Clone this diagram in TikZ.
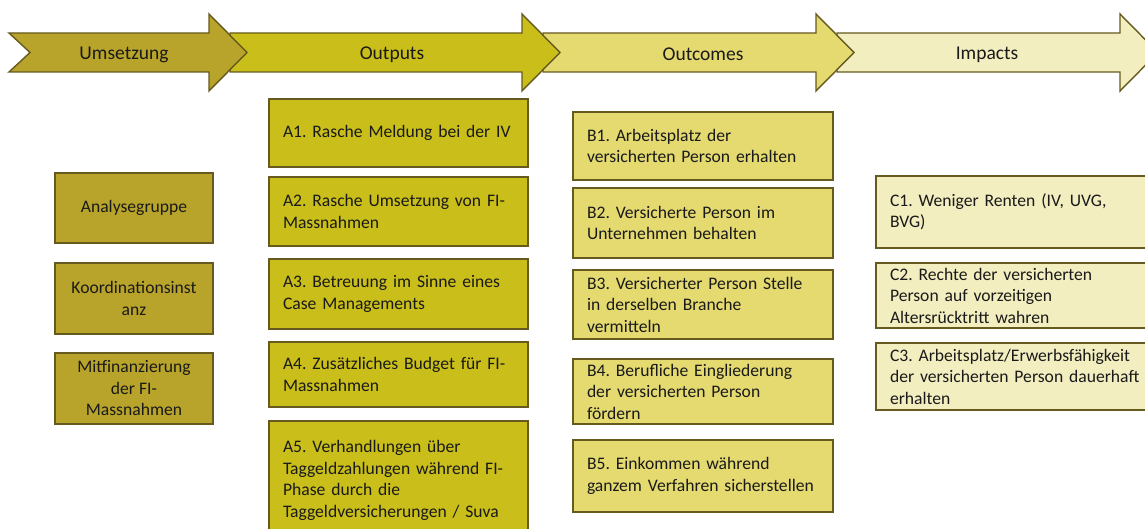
\documentclass[tikz,border=0pt]{standalone}
\usepackage{fontspec}
\setmainfont{Carlito}
\frenchspacing

\definecolor{rand}{HTML}{665A1E}
\definecolor{umsfill}{HTML}{B8A42A}
\definecolor{outfill}{HTML}{C9BE1A}
\definecolor{ocmfill}{HTML}{E4DA70}
\definecolor{impfill}{HTML}{F2EEC0}
\definecolor{schrift}{HTML}{1A1A1A}

\newcommand\boxfont{\fontsize{17.6}{21.5}\selectfont}
\newcommand\pfeilfont{\fontsize{19.5}{23}\selectfont}

\begin{document}
\begin{tikzpicture}[x=1pt,y=-1pt]

      \useasboundingbox (0,0) rectangle (1145,529);
      \clip (0,0) rectangle (1145,529);

      % phases, drawn back to front
      \begin{scope}[every path/.style={draw=rand, line width=1.4pt, line join=miter}]
        \filldraw[fill=impfill] (837,33) -- (1120,33) -- (1120,14) -- (1158,52.5) -- (1120,91) -- (1120,72) -- (837,72) -- cycle;
        \filldraw[fill=ocmfill] (543,33) -- (816,33) -- (816,14) -- (854,52.5) -- (816,91) -- (816,72) -- (543,72) -- cycle;
        \filldraw[fill=outfill] (230,33) -- (522,33) -- (522,14) -- (560,52.5) -- (522,91) -- (522,72) -- (230,72) -- cycle;
        \filldraw[fill=umsfill] (9,33) -- (209,33) -- (209,14) -- (247,52.5) -- (209,91) -- (209,72) -- (9,72) -- (30,52.5) -- cycle;
      \end{scope}

      \begin{scope}[every node/.style={font=\pfeilfont, text=schrift}]
        \node (umsetzung) at (124,54.5)  {Umsetzung};
        \node (outputs)   at (392,54.5)  {Outputs};
        \node (outcomes)  at (703,54.5)  {Outcomes};
        \node (impacts)   at (987,54.5)  {Impacts};
      \end{scope}

      % Umsetzung
      \begin{scope}[every node/.style={rectangle, draw=rand, line width=1.8pt, fill=umsfill,
          font=\boxfont, text=schrift, align=center, minimum width=158pt, inner ysep=0pt}]
        \node[minimum height=70pt] (u1) at (134,208)   {Analysegruppe};
        \node[minimum height=71pt] (u2) at (134,298.5) {Koordinationsinst\\anz};
        \node[minimum height=71pt] (u3) at (134,388.5) {Mitfinanzierung\\der FI-\\Massnahmen};
      \end{scope}

      % Outputs
      \begin{scope}[every node/.style={rectangle, draw=rand, line width=1.8pt, fill=outfill,
          font=\boxfont, text=schrift, align=left, text width=231pt, inner xsep=14pt, inner ysep=0pt}]
        \node[minimum height=68pt]  (a1) at (398.5,133)   {A1. Rasche Meldung bei der IV};
        \node[minimum height=69pt]  (a2) at (398.5,211.5) {A2. Rasche Umsetzung von FI-\\Massnahmen};
        \node[minimum height=70pt]  (a3) at (398.5,294)   {A3. Betreuung im Sinne eines\\Case Managements};
        \node[minimum height=65pt]  (a4) at (398.5,374.5) {A4. Zusätzliches Budget für FI-\\Massnahmen};
        \node[minimum height=119pt] (a5) at (398.5,480.5) {A5. Verhandlungen über\\Taggeldzahlungen während FI-\\Phase durch die\\Taggeldversicherungen / Suva};
      \end{scope}

      % Outcomes
      \begin{scope}[every node/.style={rectangle, draw=rand, line width=1.8pt, fill=ocmfill,
          font=\boxfont, text=schrift, align=left, text width=232pt, inner xsep=14pt, inner ysep=0pt}]
        \node[minimum height=68pt] (b1) at (703,146)   {B1. Arbeitsplatz der\\versicherten Person erhalten};
        \node[minimum height=70pt] (b2) at (703,223)   {B2. Versicherte Person im\\Unternehmen behalten};
        \node[minimum height=69pt] (b3) at (703,304.5) {B3. Versicherter Person Stelle\\in derselben Branche\\vermitteln};
        \node[minimum height=65pt] (b4) at (703,391.5) {B4. Berufliche Eingliederung\\der versicherten Person\\fördern};
        \node[minimum height=72pt] (b5) at (703,476)   {B5. Einkommen während\\ganzem Verfahren sicherstellen};
      \end{scope}

      % Impacts
      \begin{scope}[every node/.style={rectangle, draw=rand, line width=1.8pt, fill=impfill,
          font=\boxfont, text=schrift, align=left, text width=260pt, inner xsep=14pt, inner ysep=0pt}]
        \node[minimum height=72pt] (c1) at (1020,212)   {C1. Weniger Renten (IV, UVG,\\BVG)};
        \node[minimum height=65pt] (c2) at (1020,295.5) {C2. Rechte der versicherten\\Person auf vorzeitigen\\Altersrücktritt wahren};
        \node[minimum height=67pt] (c3) at (1020,376.5) {C3. Arbeitsplatz/Erwerbsfähigkeit\\der versicherten Person dauerhaft\\erhalten};
      \end{scope}

    \end{tikzpicture}
\end{document}
